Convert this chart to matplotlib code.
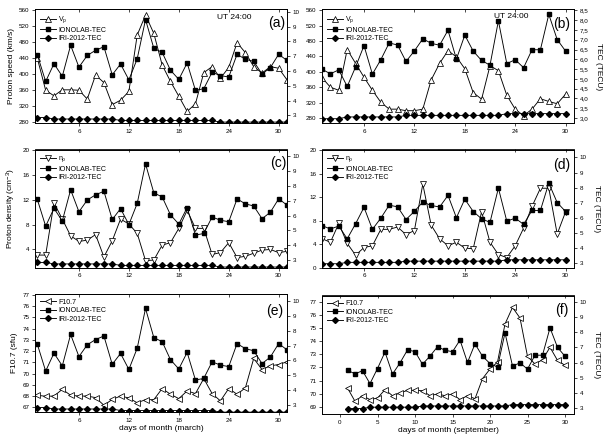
import numpy as np
import matplotlib
matplotlib.use("Agg")
import matplotlib.pyplot as plt
from matplotlib.ticker import FuncFormatter

plt.rcParams["font.family"] = ["Liberation Sans", "DejaVu Sans"]
plt.rcParams["mathtext.fontset"] = "custom"
plt.rcParams["mathtext.rm"] = "Liberation Sans"
plt.rcParams["mathtext.it"] = "Liberation Sans:italic"

days_mar = np.arange(1, 32)
days_sep = np.arange(1, 31)

# solar wind proton speed (km/s)
vp_mar = [440, 360, 346, 361, 361, 360, 338, 398, 379, 324, 335, 357, 498, 548, 502, 423,
          382, 345, 307, 326, 404, 419, 390, 417, 479, 454, 419, 403, 419, 415, 386]
vp_sep = [385, 360, 352, 458, 422, 386, 352, 321, 303, 303, 299, 299, 303, 379, 422, 455,
          439, 408, 346, 329, 416, 403, 339, 303, 286, 303, 330, 323, 317, 342]

# proton density (cm^-3)
np_mar = [3.1, 3.1, 11.5, 8.9, 6.2, 5.3, 5.5, 6.4, 2.8, 5.4, 8.9, 8.1, 6.6, 2.2, 2.3, 4.7,
          5.1, 7.4, 10.3, 7.4, 7.4, 3.2, 3.5, 5.1, 2.7, 2.9, 3.4, 3.9, 4.0, 3.5, 3.7]
np_sep = [4.9, 4.3, 7.5, 4.1, 2.1, 3.4, 3.7, 6.5, 6.5, 6.9, 5.6, 6.3, 14.2, 7.2, 4.9, 3.7,
          4.3, 3.3, 3.2, 9.5, 4.3, 2.2, 1.7, 3.7, 6.7, 10.4, 13.5, 13.5, 5.7, 9.5]

# F10.7 (sfu)
f107_mar = [68.07, 67.98, 68.0, 68.6, 68.07, 68.0, 68.0, 67.86, 67.18, 67.7, 68.0, 67.83,
            67.4, 67.68, 67.68, 68.67, 68.16, 67.77, 68.46, 68.22, 69.56, 68.22, 67.57,
            68.67, 68.16, 68.73, 71.35, 70.36, 70.69, 70.81, 71.05]
f107_sep = [70.43, 69.41, 69.84, 69.54, 69.66, 70.3, 69.84, 70.04, 70.25, 70.25, 70.22,
            69.84, 69.97, 69.84, 69.97, 69.54, 69.84, 69.61, 71.14, 71.88, 72.41, 75.32,
            76.59, 75.78, 72.85, 72.26, 72.59, 73.54, 72.54, 72.16]

# TEC (TECU)
tec_mar = [7.09, 5.29, 6.49, 5.64, 7.74, 6.26, 7.05, 7.40, 7.64, 5.74, 6.47, 5.40, 6.82,
           9.48, 7.53, 7.26, 6.05, 5.43, 6.54, 4.69, 4.80, 5.91, 5.69, 5.59, 7.13, 6.79,
           6.65, 5.79, 6.23, 7.13, 6.71]
tec_sep = [5.49, 5.26, 5.46, 4.61, 5.61, 6.70, 5.24, 5.98, 6.84, 6.73, 5.89, 6.43, 7.05,
           6.82, 6.72, 7.49, 6.01, 7.24, 6.42, 5.94, 5.70, 7.97, 5.78, 5.98, 5.57, 6.49,
           6.49, 8.30, 7.01, 6.42]
iri_mar = [2.85] * 2 + [2.75] * 8 + [2.65] * 12 + [2.54] * 9
iri_sep = [2.96] * 3 + [3.05] * 7 + [3.13] * 12 + [3.22] * 8

W, H = 609, 436
fig = plt.figure(figsize=(W / 100, H / 100), dpi=100)


def rect(x0, x1, y0, y1):
    return [x0 / W, 1 - y1 / H, (x1 - x0) / W, (y1 - y0) / H]


def panel(r, days, left, marker, name, tec, iri, llim, rlim, xlim, xticks,
          lticks, rticks, tag, tagpos, ylabel=None, xlabel=None, tec_label=False,
          comma=False, ut=None):
    ax = fig.add_axes(r)
    ax2 = ax.twinx()
    l1, = ax.plot(days, left, color="k", lw=0.65, marker=marker, ms=4.0,
                  mfc="white", mec="k", mew=0.55)
    l2, = ax2.plot(days, tec, color="k", lw=0.65, marker="s", ms=3.2)
    l3, = ax2.plot(days, iri, color="k", lw=0.65, marker="D", ms=3.0)
    ax.set_xlim(xlim)
    ax.set_ylim(llim)
    ax2.set_ylim(rlim)
    ax.set_xticks(xticks)
    ax.set_yticks(lticks)
    ax2.set_yticks(rticks)
    if comma:
        ax2.yaxis.set_major_formatter(FuncFormatter(lambda v, p: f"{v:.1f}".replace(".", ",")))
    for a in (ax, ax2):
        a.tick_params(labelsize=4.5, length=2.5, width=0.5, pad=1.5, direction="out")
        for s in a.spines.values():
            s.set_linewidth(0.6)
    top = ax.secondary_xaxis("top")
    top.set_xticks(xticks)
    top.set_xticklabels([])
    top.tick_params(direction="in", length=2.5, width=0.5)
    top.spines["top"].set_linewidth(0.6)
    if ylabel:
        ax.set_ylabel(ylabel, fontsize=6, labelpad=3)
    if xlabel:
        ax.set_xlabel(xlabel, fontsize=6, labelpad=2)
    if tec_label:
        ax2.set_ylabel("TEC (TECU)", fontsize=6, rotation=270, labelpad=10)
    ax.text(tagpos[0], tagpos[1], tag, transform=ax.transAxes, fontsize=10,
            ha="center", va="center")
    if ut:
        ax.text(ut[0], ut[1], "UT 24:00", transform=ax.transAxes, fontsize=6,
                ha="center", va="center")
    ax2.legend([l1, l2, l3], [name, "IONOLAB-TEC", "IRI-2012-TEC"], loc="upper left",
               bbox_to_anchor=(0.0, 1.0), frameon=False, fontsize=5, handlelength=2.3,
               handletextpad=0.3, labelspacing=0.2, borderaxespad=0.3)
    return ax


top_x = (0.72, 31.0)
panel(rect(35, 287, 9.5, 123), days_mar, vp_mar, "^", "V$_\\mathrm{p}$", tec_mar, iri_mar,
      (278, 562), (2.48, 10.16), top_x, [6, 12, 18, 24, 30], np.arange(280, 561, 40),
      np.arange(3, 11), "(a)", (0.96, 0.88), ylabel="Proton speed (km/s)",
      ut=(0.79, 0.93))
panel(rect(322, 574, 9.5, 123), days_sep, vp_sep, "^", "V$_\\mathrm{p}$", tec_sep, iri_sep,
      (267, 562), (2.74, 8.55), (1.0, 31.0), [6, 12, 18, 24, 30], np.arange(280, 561, 40),
      np.arange(3.0, 8.51, 0.5), "(b)", (0.95, 0.87), tec_label=True, comma=True,
      ut=(0.75, 0.94))
panel(rect(35, 287, 149.5, 267.5), days_mar, np_mar, "v", "n$_\\mathrm{p}$", tec_mar, iri_mar,
      (1.1, 20.1), (2.51, 10.45), top_x, [6, 12, 18, 24, 30], [4, 8, 12, 16, 20],
      np.arange(3, 11), "(c)", (0.965, 0.885),
      ylabel="Proton density (cm$^{-3}$)")
panel(rect(322, 574, 149.5, 267.5), days_sep, np_sep, "v", "n$_\\mathrm{p}$", tec_sep, iri_sep,
      (0, 20.1), (2.71, 10.53), (1.0, 31.0), [6, 12, 18, 24, 30], [0, 4, 8, 12, 16, 20],
      np.arange(3, 11), "(d)", (0.95, 0.87), tec_label=True)
panel(rect(35, 287, 294, 412), days_mar, f107_mar, "<", "F10.7", tec_mar, iri_mar,
      (66.58, 77.09), (2.55, 10.45), top_x, [6, 12, 18, 24, 30], np.arange(67, 78),
      np.arange(3, 11), "(e)", (0.95, 0.856), ylabel="F10.7 (sfu)",
      xlabel="days of month (march)")
panel(rect(322, 574, 295.5, 414), days_sep, f107_sep, "<", "F10.7", tec_sep, iri_sep,
      (68.44, 77.5), (2.6, 10.44), (-2.4, 31.2), [0, 5, 10, 15, 20, 25, 30],
      np.arange(69, 78), np.arange(3, 11), "(f)", (0.95, 0.88), tec_label=True,
      xlabel="days of month (september)")

fig.savefig("out.png", dpi=100)
